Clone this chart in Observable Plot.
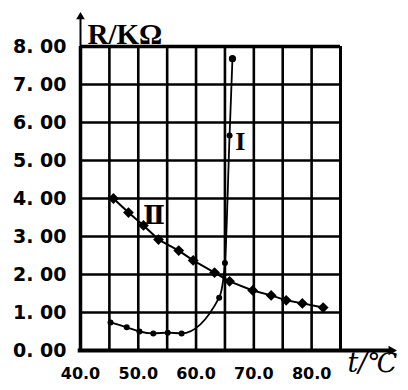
<!DOCTYPE html>
<html>
<head>
<meta charset="utf-8">
<script src="https://cdn.jsdelivr.net/npm/d3@7"></script>
<script src="https://cdn.jsdelivr.net/npm/@observablehq/plot@0.6"></script>
<style>
  html, body { margin: 0; padding: 0; background: #fff; }
  #chart { width: 408px; height: 390px; }
</style>
</head>
<body>
<div id="chart"></div>
<script>
// Curve I (thermistor with positive coefficient)
const tI = [45.2, 48.0, 50.2, 52.6, 55.1, 57.5, 64.0, 65.0, 65.8, 66.3];
const rI = [0.74, 0.61, 0.50, 0.45, 0.47, 0.45, 1.39, 2.30, 5.66, 7.68];
// Curve II (negative coefficient)
const tII = [45.7, 48.3, 50.9, 53.5, 57.0, 59.5, 63.2, 65.8, 69.8, 73.0, 75.6, 78.4, 82.0];
const rII = [4.00, 3.63, 3.29, 2.92, 2.63, 2.37, 2.05, 1.82, 1.58, 1.45, 1.32, 1.24, 1.13];

const xGrid = [40, 45, 50, 55, 60, 65, 70, 75, 80, 85];
const yGrid = [0, 1, 2, 3, 4, 5, 6, 7, 8];
const xTicks = [40, 50, 60, 70, 80];
const xTickLabels = ["40.0", "50.0", "60.0", "70.0", "80.0"];
const yTicks = [0, 1, 2, 3, 4, 5, 6, 7, 8];
const yTickLabels = ["0. 00", "1. 00", "2. 00", "3. 00", "4. 00", "5. 00", "6. 00", "7. 00", "8. 00"];

const dataI = tI.map((t, i) => ({t, r: rI[i]}));
const dataII = tII.map((t, i) => ({t, r: rII[i]}));

const sans = "'DejaVu Sans', sans-serif";
const serif = "'Liberation Serif', 'DejaVu Serif', serif";

const chart = Plot.plot({
  width: 408,
  height: 390,
  marginLeft: 80,
  marginRight: 68,
  marginTop: 46,
  marginBottom: 40,
  x: {domain: [40, 85], axis: null},
  y: {domain: [0, 8], axis: null},
  marks: [
    // grid
    Plot.ruleX(xGrid.slice(1, -1), {y1: 0, y2: 8, stroke: "#000", strokeWidth: 2.6}),
    Plot.ruleY(yGrid.slice(1, -1), {x1: 40, x2: 85, stroke: "#000", strokeWidth: 2.6}),
    // frame
    Plot.ruleY([8], {x1: 40, x2: 85, stroke: "#000", strokeWidth: 3.5}),
    Plot.ruleX([85], {y1: 0, y2: 8, stroke: "#000", strokeWidth: 3}),
    Plot.ruleX([40], {y1: 0, y2: 8, stroke: "#000", strokeWidth: 3.5}),
    // axes with arrows
    Plot.ruleX([40], {y1: 7.9, y2: 8.75, stroke: "#000", strokeWidth: 2}),
    Plot.dot([{x: 40, y: 8.78}], {x: "x", y: "y", symbol: "triangle", r: 3.2, fill: "#000"}),
    Plot.ruleY([0], {x1: 39.6, x2: 93.5, stroke: "#000", strokeWidth: 4}),
    Plot.dot([{x: 93.8, y: 0}], {x: "x", y: "y", symbol: "triangle", r: 3.6, rotate: 90, fill: "#000"}),
    // curve II
    Plot.line(dataII, {x: "t", y: "r", stroke: "#000", strokeWidth: 2}),
    Plot.dot(dataII, {x: "t", y: "r", symbol: "square", r: 4.3, rotate: 45, fill: "#000"}),
    // curve I
    Plot.line(dataI, {x: "t", y: "r", stroke: "#000", strokeWidth: 1.8, curve: "monotone-x"}),
    Plot.dot(dataI, {x: "t", y: "r", r: (d, i) => i === dataI.length - 1 ? 4 : 2.8, fill: "#000"}),
    // curve labels
    Plot.text(["I"], {x: 66.8, y: 5.5, text: d => d, fontFamily: serif, fontWeight: "bold", fontSize: 26, textAnchor: "start", fill: "#000"}),
    Plot.text(["Ⅱ"], {x: 52.7, y: 3.55, text: d => d, fontFamily: serif, fontWeight: "bold", fontSize: 26, fill: "#000"}),
    // tick labels
    Plot.text(yTicks, {x: 40, y: d => d, text: (d, i) => yTickLabels[i], dx: -14, textAnchor: "end", fontFamily: sans, fontWeight: "bold", fontSize: 19, fill: "#000"}),
    Plot.text(xTicks, {x: d => d, y: 0, text: (d, i) => xTickLabels[i], dy: 23, fontFamily: sans, fontWeight: "bold", fontSize: 16, fill: "#000"}),
    // axis titles
    Plot.text(["R/KΩ"], {frameAnchor: "top-left", text: d => d, dx: 7, dy: -23, textAnchor: "start", fontFamily: serif, fontWeight: "bold", fontSize: 29, fill: "#000"}),
    Plot.text(["t/℃"], {frameAnchor: "bottom-right", text: d => d, dx: 32, dy: 21, textAnchor: "middle", fontFamily: "'DejaVu Serif', serif", fontStyle: "italic", fontSize: 27, fill: "#000"})
  ]
});
document.getElementById("chart").appendChild(chart);
</script>
</body>
</html>
